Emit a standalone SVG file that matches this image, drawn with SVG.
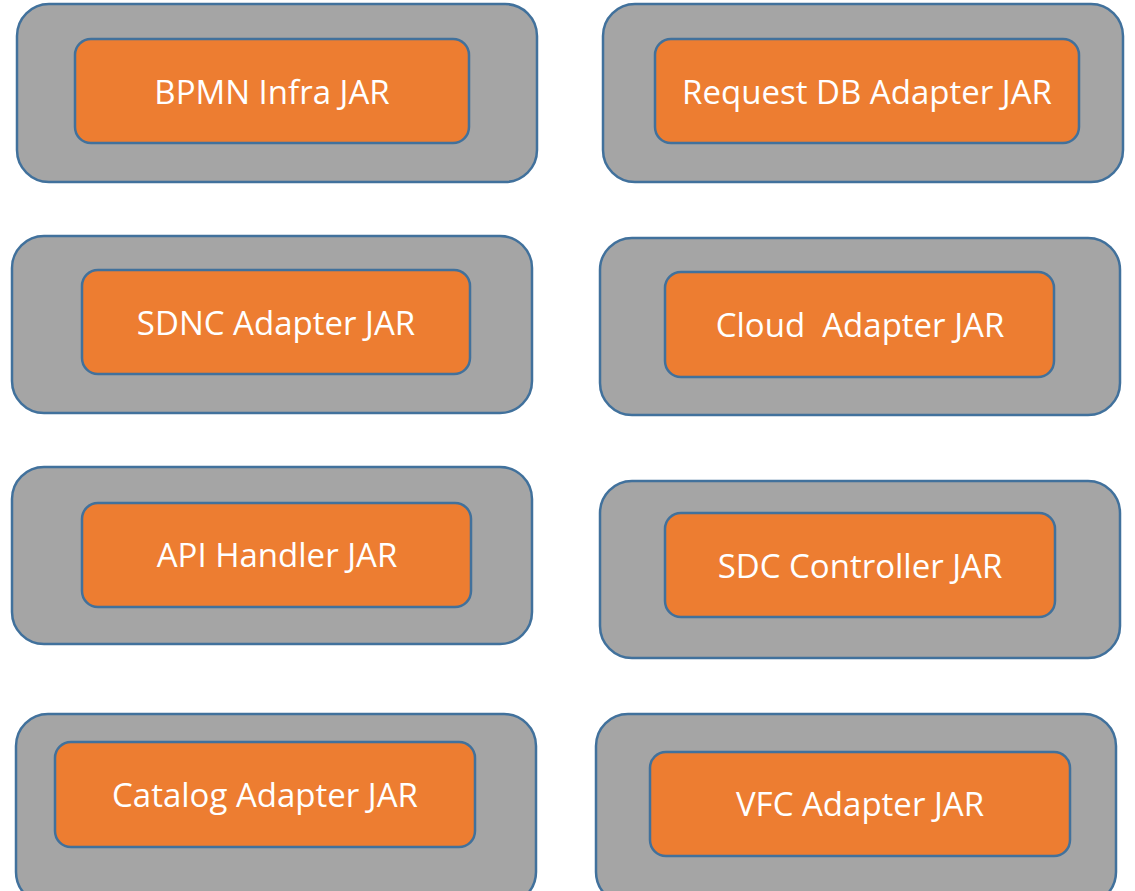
<svg xmlns="http://www.w3.org/2000/svg" width="1135" height="891" viewBox="0 0 1135 891">
<style>
.outer{fill:#A5A5A5;stroke:#41719C;stroke-width:2.5}
.inner{fill:#ED7D31;stroke:#41719C;stroke-width:2.5}
.lbl{fill:#FFFFFF;font-family:"Open Sans","Noto Sans",sans-serif;font-size:33px;text-anchor:middle}
</style>
<rect width="1135" height="891" fill="#FFFFFF"/>
<g id="connectors"></g>
<g id="bpmn">
<rect class="outer" x="17" y="4" width="520" height="178" rx="32"/>
<rect class="inner" x="75" y="39" width="394" height="104" rx="16"/>
<text class="lbl" x="272" y="104">BPMN Infra JAR</text>
</g>
<g id="requestdb">
<rect class="outer" x="603" y="4" width="520" height="178" rx="32"/>
<rect class="inner" x="655" y="39" width="424" height="104" rx="16"/>
<text class="lbl" x="867" y="104">Request DB Adapter JAR</text>
</g>
<g id="sdnc">
<rect class="outer" x="12" y="236" width="520" height="177" rx="32"/>
<rect class="inner" x="82" y="270" width="388" height="104" rx="16"/>
<text class="lbl" x="276" y="335">SDNC Adapter JAR</text>
</g>
<g id="cloud">
<rect class="outer" x="600" y="238" width="520" height="177" rx="32"/>
<rect class="inner" x="665" y="272" width="389" height="105" rx="16"/>
<text class="lbl" x="860" y="337" xml:space="preserve">Cloud  Adapter JAR</text>
</g>
<g id="apihandler">
<rect class="outer" x="12" y="467" width="520" height="177" rx="32"/>
<rect class="inner" x="82" y="503" width="389" height="104" rx="16"/>
<text class="lbl" x="277" y="567">API Handler JAR</text>
</g>
<g id="sdccontroller">
<rect class="outer" x="600" y="481" width="520" height="177" rx="32"/>
<rect class="inner" x="665" y="513" width="390" height="104" rx="16"/>
<text class="lbl" x="860" y="578">SDC Controller JAR</text>
</g>
<g id="catalog">
<rect class="outer" x="16" y="714" width="520" height="190" rx="32"/>
<rect class="inner" x="55" y="742" width="420" height="105" rx="16"/>
<text class="lbl" x="265" y="807">Catalog Adapter JAR</text>
</g>
<g id="vfc">
<rect class="outer" x="596" y="714" width="520" height="190" rx="32"/>
<rect class="inner" x="650" y="752" width="420" height="104" rx="16"/>
<text class="lbl" x="860" y="816">VFC Adapter JAR</text>
</g>
</svg>
